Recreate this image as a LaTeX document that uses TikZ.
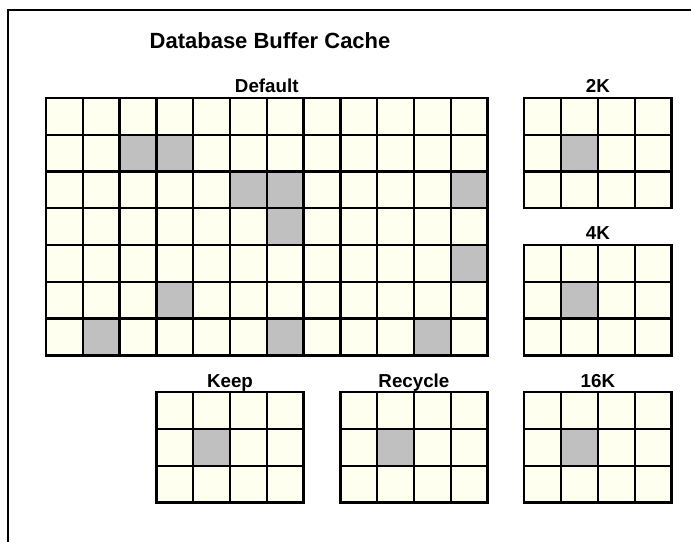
\documentclass[tikz,border=0pt]{standalone}
\usepackage{fontspec}
\setsansfont{Liberation Sans}
\usetikzlibrary{positioning}
\definecolor{cellFree}{HTML}{FFFFF0}
\definecolor{cellUsed}{HTML}{C0C0C0}

\begin{document}
\begin{tikzpicture}[y=-1cm,font=\sffamily\bfseries,
 cell/.style={draw=black,line width=1.8pt,fill=cellFree},
 used/.style={cell,fill=cellUsed},
 pooltitle/.style={font=\sffamily\bfseries\fontsize{14.5}{17}\selectfont,anchor=base}]
\useasboundingbox (-1.25,-2.66) rectangle (17.53,12.07);
\draw[line width=1.5pt] (-1.03,12.3)--(-1.03,-2.39)--(17.7,-2.39);
\node[font=\sffamily\bfseries\fontsize{17}{20}\selectfont] (cache) at (6.09,-1.55) {Database Buffer Cache};
% each pool: top left corner, columns, rows
\foreach \x/\y/\c/\r/\name/\label in {0/0/12/7/default/Default,13/0/4/3/pool2k/2K,13/4/4/3/pool4k/4K,
 13/8/4/3/pool16k/16K,3/8/4/3/keep/Keep,8/8/4/3/recycle/Recycle}{
 \foreach \i in {1,...,\c}
  \foreach \j in {1,...,\r}
   \draw[cell] (\x+\i-1,\y+\j-1) rectangle ++(1,1);
 \node[pooltitle] (\name) at (\x+\c/2,\y-.14) {\label};
}
\foreach \i/\j in {2/1,3/1,5/2,6/2,11/2,6/3,11/4,3/5,1/6,6/6,10/6,14/1,14/5,14/9,4/9,9/9}
 \draw[used] (\i,\j) rectangle ++(1,1);
\end{tikzpicture}
\end{document}
